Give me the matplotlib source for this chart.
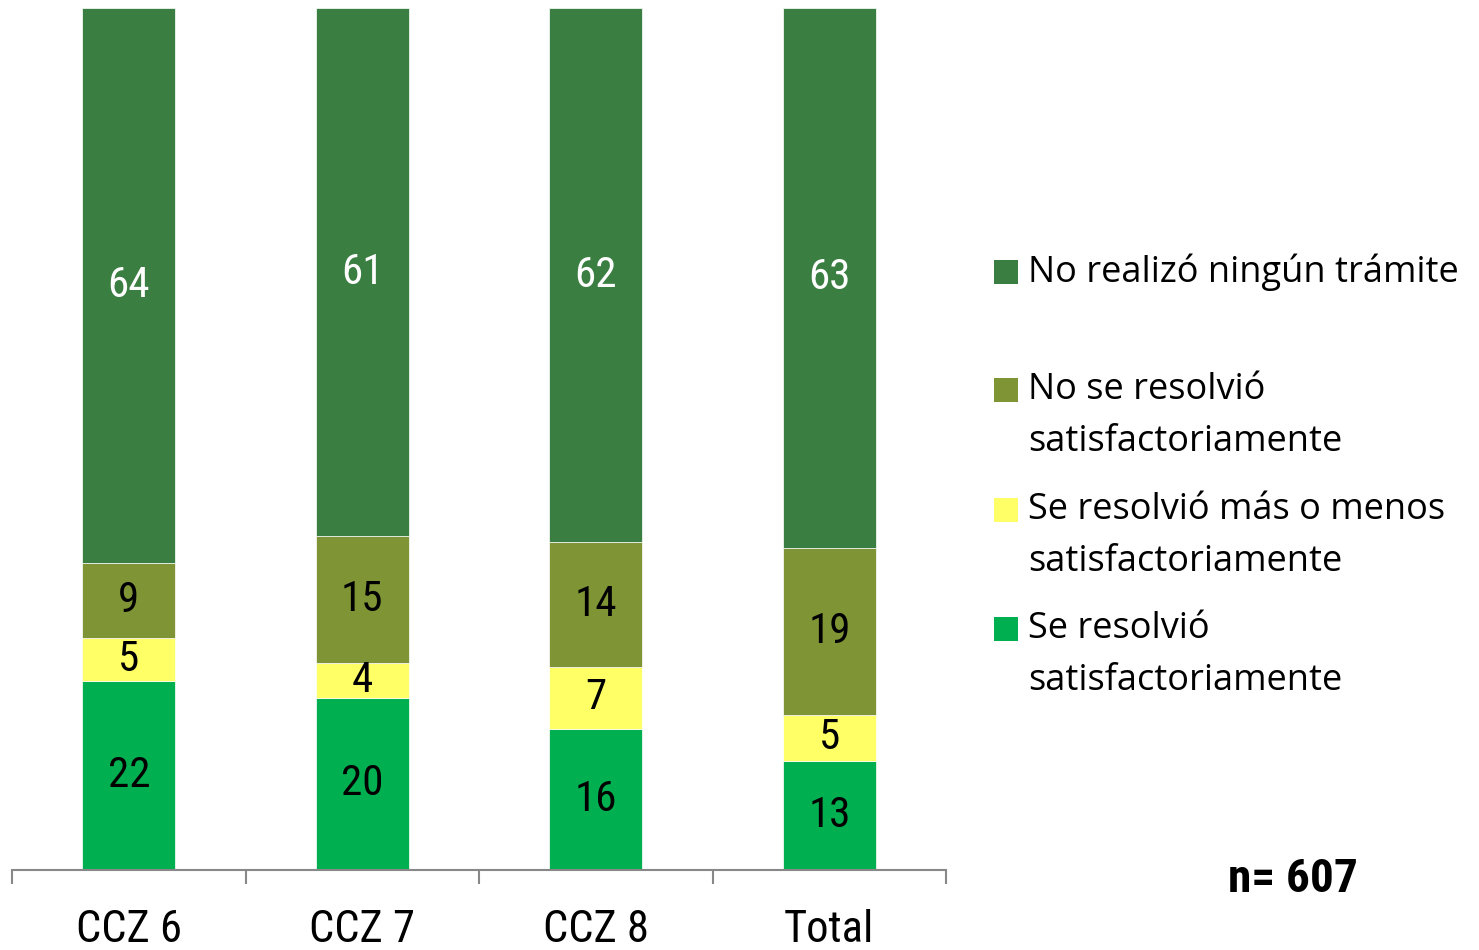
import matplotlib
matplotlib.use("Agg")
import matplotlib.pyplot as plt
from matplotlib import font_manager as fm
from matplotlib.patches import Rectangle

names = {f.name for f in fm.fontManager.ttflist}
fam = [f for f in ["Roboto Condensed", "Liberation Sans Narrow", "DejaVu Sans"] if f in names]
leg_fam = [f for f in ["Open Sans", "Roboto", "DejaVu Sans"] if f in names]
plt.rcParams['font.family'] = fam

categories = ["CCZ 6", "CCZ 7", "CCZ 8", "Total"]
series_names = ["Se resolvió\nsatisfactoriamente",
                "Se resolvió más o menos\nsatisfactoriamente",
                "No se resolvió\nsatisfactoriamente",
                "No realizó ningún trámite"]
se_resolvio = [21.9, 20.0, 16.4, 12.7]
mas_o_menos = [5.0, 4.0, 7.2, 5.3]
no_se_resolvio = [8.7, 14.7, 14.4, 19.4]
no_realizo = [64.4, 61.3, 62.0, 62.6]
colors = ["#00B050", "#FFFF66", "#7F9434", "#3B7E42"]
text_colors = ["black", "black", "black", "white"]
n_text = "n= 607"

W, H = 1479, 950
fig = plt.figure(figsize=(W / 100, H / 100), dpi=100)
ax = fig.add_axes([12 / W, 80 / H, (946 - 12) / W, (870 - 8) / H])

series = [se_resolvio, mas_o_menos, no_se_resolvio, no_realizo]
x = list(range(len(categories)))
bottom = [0.0] * len(categories)
for vals, col, tc in zip(series, colors, text_colors):
    ax.bar(x, vals, width=0.4, bottom=bottom, color=col, edgecolor="white", linewidth=0.5)
    for xi, v, b in zip(x, vals, bottom):
        ax.text(xi, b + v / 2, f"{v:.0f}", ha="center", va="center", fontsize=31, color=tc)
    bottom = [b + v for b, v in zip(bottom, vals)]

ax.set_xlim(-0.5, len(categories) - 0.5)
ax.set_ylim(0, 100)
for s in ["top", "right", "left"]:
    ax.spines[s].set_visible(False)
ax.spines["bottom"].set_color("#888888")
ax.spines["bottom"].set_linewidth(1.5)
ax.set_yticks([])
ax.set_xticks(x)
ax.set_xticklabels(categories, fontsize=32)
ax.tick_params(axis="x", which="major", length=0, pad=28)
ax.set_xticks([i - 0.5 for i in range(len(categories) + 1)], minor=True)
ax.tick_params(axis="x", which="minor", length=10, width=1.5, color="#888888", direction="out")

# legend (manual)
leg_y = [629, 510, 390, 272]
for col, name, yc in zip(colors, series_names, leg_y):
    fig.patches.append(Rectangle((994 / W, 1 - (yc + 12) / H), 24 / W, 24 / H,
                                 transform=fig.transFigure, facecolor=col, edgecolor="none"))
    lines = name.split("\n")
    for k, ln in enumerate(lines):
        fig.text(1028 / W, 1 - (yc + k * 52) / H, ln, ha="left", va="center",
                 fontsize=26, family=leg_fam)

fig.text(1293 / W, 1 - 879 / H, n_text, ha="center", va="center", fontsize=34, fontweight="bold")

fig.savefig("out.png", dpi=100, facecolor="white")
